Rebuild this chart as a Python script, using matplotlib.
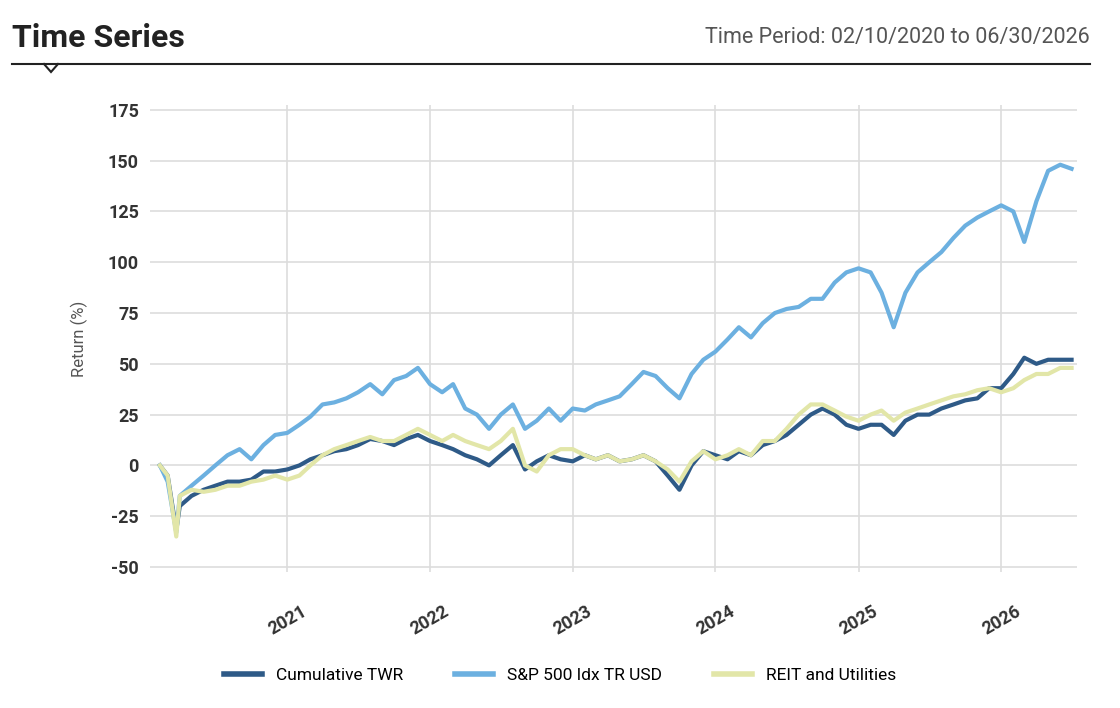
import matplotlib
matplotlib.use("Agg")
import matplotlib.pyplot as plt
import matplotlib.dates as mdates
import pandas as pd
from matplotlib.lines import Line2D

dates = ["2020-02-10", "2020-03-01", "2020-03-23"] + \
    [d.strftime("%Y-%m-%d") for d in pd.date_range("2020-04-01", "2026-06-01", freq="MS")] + ["2026-06-30"]

sp500 = [0,-8,-33,-15,-10,-5,0,5,8,3,10,15,
         16,20,24,30,31,33,36,40,35,42,44,48,
         40,36,40,28,25,18,25,30,18,22,28,22,
         28,27,30,32,34,40,46,44,38,33,45,52,
         56,62,68,63,70,75,77,78,82,82,90,95,
         97,95,85,68,85,95,100,105,112,118,122,125,
         128,125,110,130,145,148,146]
twr = [0,-5,-32,-20,-15,-12,-10,-8,-8,-7,-3,-3,
       -2,0,3,5,7,8,10,13,12,10,13,15,
       12,10,8,5,3,0,5,10,-2,2,5,3,
       2,5,3,5,2,3,5,2,-5,-12,0,7,
       5,3,7,5,10,12,15,20,25,28,25,20,
       18,20,20,15,22,25,25,28,30,32,33,38,
       38,45,53,50,52,52,52]
reit = [0,-5,-35,-15,-12,-13,-12,-10,-10,-8,-7,-5,
        -7,-5,0,5,8,10,12,14,12,12,15,18,
        15,12,15,12,10,8,12,18,0,-3,5,8,
        8,5,3,5,2,3,5,2,-2,-8,2,7,
        3,5,8,5,12,12,18,25,30,30,27,24,
        22,25,27,22,26,28,30,32,34,35,37,38,
        36,38,42,45,45,48,48]
yticks = [-50,-25,0,25,50,75,100,125,150,175]
xyears = [2021, 2022, 2023, 2024, 2025, 2026]

x = pd.to_datetime(dates)
plt.rcParams['font.family'] = ['Roboto', 'DejaVu Sans']
fig = plt.figure(figsize=(11.2, 7.08), dpi=100)
ax = fig.add_axes([0.134, 0.192, 0.828, 0.66])

c_twr, c_sp, c_reit = "#2E5A87", "#6CB0E0", "#E2E6A8"
ax.plot(x, twr, color=c_twr, lw=3, zorder=3)
ax.plot(x, sp500, color=c_sp, lw=3, zorder=4)
ax.plot(x, reit, color=c_reit, lw=3, zorder=5)

ax.set_ylim(-52.5, 177.5)
ax.set_xlim(pd.Timestamp("2020-01-16"), pd.Timestamp("2026-07-15"))
ax.set_yticks(yticks)
ax.set_yticklabels([str(v) for v in yticks], fontsize=13, fontweight='bold', color="#333333")
ax.set_xticks([pd.Timestamp(f"{y}-01-01") for y in xyears])
ax.set_xticklabels([str(y) for y in xyears], rotation=30, fontsize=13, fontweight='bold', color="#333333")
ax.grid(True, color="#dddddd", lw=1.2)
ax.set_axisbelow(True)
for s in ax.spines.values():
    s.set_visible(False)
ax.tick_params(axis='y', length=0, pad=8)
ax.tick_params(axis='x', length=0, pad=22)
ax.set_ylabel("Return (%)", fontsize=12, color="#555555", labelpad=14)

fig.text(12/1120, 1-38/708, "Time Series", fontsize=23, fontweight='bold', va='center', color="#222222")
fig.text(1090/1120, 1-38/708, "Time Period: 02/10/2020 to 06/30/2026", fontsize=15.5, va='center', ha='right', color="#555555")
y0 = 1-64/708
fig.add_artist(Line2D([12/1120, 1090/1120], [y0, y0], color="#222222", lw=1.5, transform=fig.transFigure))
fig.add_artist(Line2D([44/1120, 51/1120, 58/1120], [y0, y0-8/708, y0], color="#222222", lw=1.5, transform=fig.transFigure, solid_joinstyle='miter'))

handles = [Line2D([], [], color=c, lw=4) for c in (c_twr, c_sp, c_reit)]
fig.legend(handles, ["Cumulative TWR", "S&P 500 Idx TR USD", "REIT and Utilities"],
           loc='center', bbox_to_anchor=(0.5, 1-675/708), ncol=3, frameon=False,
           fontsize=12.5, handlelength=2.2, columnspacing=3)
fig.savefig("out.png", dpi=100)
